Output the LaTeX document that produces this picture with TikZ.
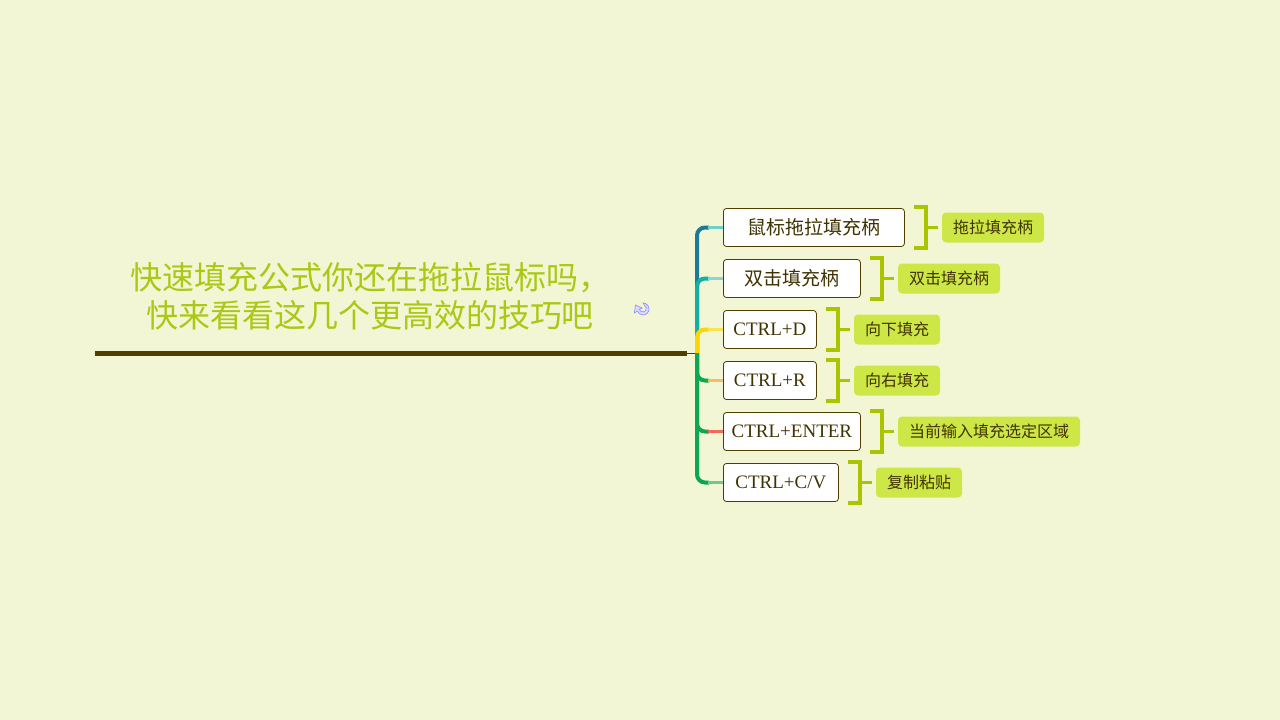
\documentclass[tikz,border=0pt]{standalone}
\usepackage{fontspec}
\setmainfont{Liberation Serif}
\newfontfamily\cjk{Noto Sans CJK SC}
\usetikzlibrary{positioning, calc}
\definecolor{bgyellow}{RGB}{243, 246, 212}
\definecolor{titlegreen}{RGB}{170, 200, 20}
\definecolor{trunkbrown}{RGB}{80, 62, 0}
\definecolor{tagfill}{RGB}{205, 232, 70}
\definecolor{bracketgreen}{RGB}{170, 196, 0}
\definecolor{tblue}{RGB}{27, 122, 154}
\definecolor{tteal}{RGB}{18, 176, 160}
\definecolor{tyellow}{RGB}{250, 215, 0}
\definecolor{tgreen}{RGB}{10, 168, 79}
\definecolor{torange}{RGB}{250, 170, 60}
\definecolor{tred}{RGB}{240, 40, 20}

\tikzset{
	itembox/.style={draw=trunkbrown, fill=white, rounded corners=3pt, line width=0.8pt,
		minimum height=38pt, inner xsep=0pt, anchor=west, font=\cjk\fontsize{19}{19}\selectfont, text=trunkbrown!80!black},
	latin/.style={font=\fontsize{19}{19}\selectfont},
	tagbox/.style={fill=tagfill, rounded corners=4pt, minimum height=30pt, inner xsep=11pt,
		anchor=west, font=\cjk\fontsize{16}{16}\selectfont, text=trunkbrown!80!black},
	brace/.style={draw=bracketgreen, line width=3.5pt}
}

\begin{document}
\begin{tikzpicture}[x=1pt,y=-1pt]
	
	% background
	\fill[bgyellow] (0,0) rectangle (1280,720);
	\useasboundingbox (0,0) rectangle (1280,720);
	
	% title and main line
	\node[font=\cjk\fontsize{32}{38}\selectfont, text=titlegreen, align=center] (title) at (370,296)
		{快速填充公式你还在拖拉鼠标吗，\\快来看看这几个更高效的技巧吧};
	\coordinate (lstart) at (95,353);
	\coordinate (lend) at (687,353);
	\coordinate (hub) at (697,353);
	\draw[trunkbrown, line width=5pt] (lstart) -- (lend);
	\draw[trunkbrown, line width=0.8pt] (lend) -- (hub);
	
	% small icon
	\draw[blue!45, fill=blue!15, line width=0.6pt] (643,303) arc (-90:160:6) -- ++(-3,2) -- ++(1,-8) -- ++(7,3) -- ++(-3,1) arc (170:-60:3.5) -- cycle;
	
	% items
	\node[itembox, minimum width=181pt] (i1) at (723,227.5) {鼠标拖拉填充柄};
	\node[itembox, minimum width=137pt] (i2) at (723,278.5) {双击填充柄};
	\node[itembox, latin, minimum width=93pt] (i3) at (723,329.5) {CTRL+D};
	\node[itembox, latin, minimum width=93pt] (i4) at (723,380.5) {CTRL+R};
	\node[itembox, latin, minimum width=137pt] (i5) at (723,431.5) {CTRL+ENTER};
	\node[itembox, latin, minimum width=115pt] (i6) at (723,482.5) {CTRL+C/V};
	
	% trunk to items
	\foreach \n/\tc/\bc in {1/tblue/tteal!60, 2/tteal/tteal!50, 3/tyellow/tyellow!70}{
		\draw[\tc, line width=4pt, rounded corners=8pt] (hub) |- ($(i\n.west)+(-14,0)$);
		\draw[\bc, line width=2.5pt] ($(i\n.west)+(-15,0)$) -- (i\n.west);
	}
	\foreach \n/\tc/\bc in {4/torange/torange!80, 5/tred/tred!70, 6/tgreen/tgreen!60}{
		\draw[tgreen, line width=4pt, rounded corners=8pt] (hub) |- ($(i\n.west)+(-14,0)$);
		\draw[\bc, line width=2.5pt] ($(i\n.west)+(-15,0)$) -- (i\n.west);
	}
	
	% brackets and tags
	\foreach \n/\txt in {1/拖拉填充柄, 2/双击填充柄, 3/向下填充, 4/向右填充, 5/当前输入填充选定区域, 6/复制粘贴}{
		\draw[brace] ($(i\n.north east)+(9,-1)$) -| ($(i\n.east)+(21,0)$) |- ($(i\n.south east)+(9,1)$);
		\draw[brace] ($(i\n.east)+(21,0)$) -- ++(12,0);
		\node[tagbox] (t\n) at ($(i\n.east)+(37,0)$) {\txt};
	}
	
\end{tikzpicture}
\end{document}
